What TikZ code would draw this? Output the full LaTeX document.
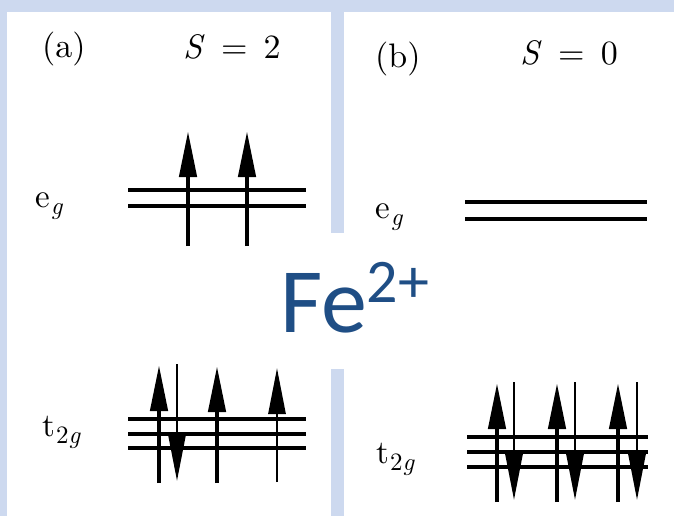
\documentclass[tikz,border=0pt]{standalone}
\usepackage{fontspec}
\setmainfont{lmroman10-regular.otf}[ItalicFont=lmroman10-italic.otf, BoldFont=lmroman10-bold.otf]
\newfontfamily\carlito{Carlito}
\usetikzlibrary{arrows.meta}
\definecolor{panelbg}{RGB}{205,217,239}
\definecolor{ionblue}{RGB}{31,78,133}
\newcommand{\orbsub}[1]{\kern0.03em\raisebox{-0.24em}{\fontsize{25}{28}\selectfont #1}}
\newcommand{\spinval}[1]{\textit{S}\hspace{0.48em}=\hspace{0.48em}#1}

\begin{document}
\begin{tikzpicture}[
    x=1pt, y=-1pt,
    level/.style={line width=3.5pt},
    spin/.style={line width=4.5pt, -{Triangle[length=46pt, width=17pt]}},
    thinspin/.style={spin, line width=2.8pt},
    head/.style={inner sep=0pt, anchor=base west, font=\fontsize{34}{40}\selectfont},
    lbl/.style={inner sep=0pt, anchor=base west, font=\fontsize{33}{38}\selectfont},
    ion/.style={inner sep=0pt, anchor=base west, text=ionblue, font=\carlito\fontsize{92}{92}\selectfont}
]
    \useasboundingbox (0,0) rectangle (674,516);

    % Background and panels
    \fill[panelbg] (0,0) rectangle (674,516);
    \fill[white] (7,12) rectangle (331,516);
    \fill[white] (344,12) rectangle (674,516);
    \fill[white] (240,233) rectangle (450,369);

    % Panel (a): high spin
    \node[head] (labela) at (42,58) {(a)};
    \node[head] (spina) at (183,59) {\spinval{2}};
    \node[lbl] (ega) at (35,207) {e\orbsub{\textit{g}}};
    \node[lbl] (tga) at (42,436) {t\orbsub{2\textit{g}}};

    \draw[level] (128,190) -- (306,190);
    \draw[level] (128,206) -- (306,206);
    \draw[level] (128,419) -- (306,419);
    \draw[level] (128,434) -- (306,434);
    \draw[level] (128,448) -- (306,448);

    \draw[spin] (188,246) -- (188,131);
    \draw[spin] (247,246) -- (247,131);
    \draw[spin] (159,483) -- (159,365);
    \draw[thinspin] (177,364) -- (177,481);
    \draw[spin] (217,483) -- (217,366);
    \draw[thinspin] (277,482) -- (277,368);

    % Panel (b): low spin
    \node[head] (labelb) at (375,68) {(b)};
    \node[head] (spinb) at (520,65) {\spinval{0}};
    \node[lbl] (egb) at (375,218) {e\orbsub{\textit{g}}};
    \node[lbl] (tgb) at (376,463) {t\orbsub{2\textit{g}}};

    \draw[level] (465,202) -- (647,202);
    \draw[level] (465,219) -- (647,219);
    \draw[level] (467,437) -- (648,437);
    \draw[level] (467,452) -- (648,452);
    \draw[level] (467,467) -- (648,467);

    \draw[spin] (497,502) -- (497,383);
    \draw[thinspin] (514,382) -- (514,500);
    \draw[spin] (557,502) -- (557,383);
    \draw[thinspin] (575,382) -- (575,500);
    \draw[spin] (618,502) -- (618,383);
    \draw[thinspin] (637,382) -- (637,500);

    % Ion label
    \node[ion] (ion) at (280,332) {Fe\raisebox{30pt}{\fontsize{62}{62}\selectfont 2+}};
\end{tikzpicture}
\end{document}
